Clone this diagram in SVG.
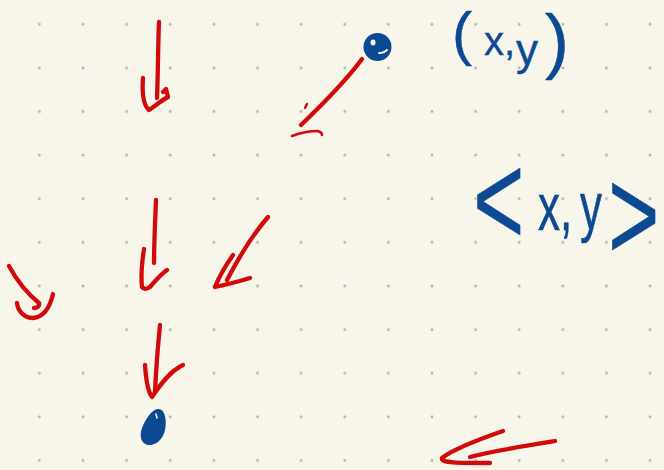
<svg xmlns="http://www.w3.org/2000/svg" width="664" height="470" viewBox="0 0 664 470">
<defs>
<pattern id="grid" x="39.4" y="24.3" width="43.62" height="43.62" patternUnits="userSpaceOnUse">
<circle cx="0" cy="0" r="1.4" fill="#b4b3ab"/>
<circle cx="43.62" cy="0" r="1.4" fill="#b4b3ab"/>
<circle cx="0" cy="43.62" r="1.4" fill="#b4b3ab"/>
<circle cx="43.62" cy="43.62" r="1.4" fill="#b4b3ab"/>
</pattern>
<style>
.r{fill:none;stroke:#d20a0a;stroke-width:4.3;stroke-linecap:round;stroke-linejoin:round}
.rt{fill:none;stroke:#d20a0a;stroke-width:2.5;stroke-linecap:round;stroke-linejoin:round}
.b{fill:#0b4a93}
.hw{font-family:"Liberation Sans",Arial,sans-serif;fill:#0b4a93;stroke:#0b4a93;stroke-width:0.4}
</style>
</defs>
<rect width="664" height="470" fill="#f8f6eb"/>
<rect width="664" height="470" fill="url(#grid)"/>
<g id="strokes">
<path class="r" d="M159,22 C158,45 158,75 157,98"/>
<path class="r" d="M143,78 C142,92 143,105 149,110 C155,106 162,100 168,97 L166,89 L163,92"/>
<path class="r" d="M362,59 C348,78 325,102 301,125"/>
<path class="rt" d="M307,104 L305,108"/>
<path class="rt" d="M292,136 C300,133 310,131 318,131 C321,132 322,134 322,135"/>
<path class="r" d="M9,266 C18,283 28,294 39,303 C40,306 37,308 34,308"/>
<path class="r" d="M17,303 C18,312 25,318 33,318 C44,317 50,307 53,294"/>
<path class="r" d="M156,200 C155,225 154,245 154,263"/>
<path class="r" d="M144,249 C142,262 141,278 142,287 C144,290 147,289 150,287 C155,281 160,275 167,270"/>
<path class="r" d="M268,217 C255,232 240,255 227,280"/>
<path class="r" d="M233,255 C226,265 219,277 215,287 C225,285 240,281 250,278"/>
<path class="r" d="M160,325 C158,345 156,370 155,392"/>
<path class="r" d="M145,365 C146,380 148,392 152,397 C160,385 170,371 183,365"/>
<path class="r" d="M503,431 C480,439 452,450 442,458 C440,463 458,463 490,463"/>
<path class="r" d="M470,457 C492,451 530,445 555,441"/>
</g>
<g id="dots">
<circle class="b" cx="377.5" cy="47" r="14"/>
<ellipse cx="373" cy="42.5" rx="2.5" ry="3" fill="#f8f6eb"/>
<path d="M379,53 C382,53.5 385,52 387,50" fill="none" stroke="#f8f6eb" stroke-width="1.8" stroke-linecap="round"/>
<path class="b" d="M159,409 C165,410 167,420 165,430 C163,440 155,446 148,445 C141,444 139,436 142,428 C145,420 152,408 159,409 Z"/>
<path d="M156,414 L157,418" stroke="#f8f6eb" stroke-width="1.5" stroke-linecap="round"/>
</g>
<g id="labels">
<text class="hw"><tspan x="452" y="54" font-size="60">(</tspan><tspan x="484" y="55" font-size="40">x,</tspan><tspan x="516" y="65" font-size="44">y</tspan><tspan x="545" y="64.5" font-size="72">)</tspan></text>
<text class="hw" transform="scale(1,1.5)"><tspan x="473" y="163.4" font-size="88">&lt;</tspan><tspan x="538" y="153.3" font-size="44">x,</tspan><tspan x="580" y="152.8" font-size="44">y</tspan><tspan x="608" y="173.4" font-size="88">&gt;</tspan></text>
</g>
</svg>
